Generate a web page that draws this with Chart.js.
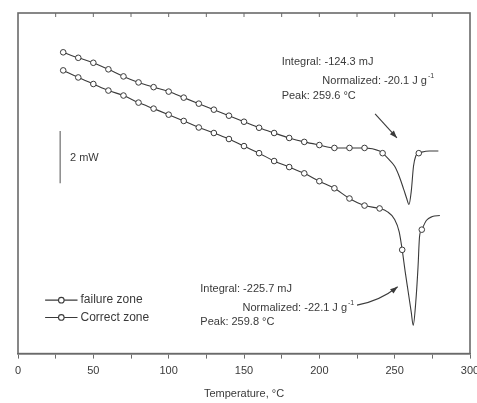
<!DOCTYPE html>
<html>
<head>
<meta charset="utf-8">
<script src="https://cdn.jsdelivr.net/npm/chart.js@4.4.0/dist/chart.umd.min.js"></script>
<style>
  html, body { margin: 0; padding: 0; background: #fff; overflow: hidden; }
  #wrap { width: 500px; height: 403px; }
</style>
</head>
<body>
<div id="wrap"><canvas id="dsc"></canvas></div>
<script>
// ---- data (temperature °C, heat flow mW, arbitrary offset) ----
const failureTemp = [30, 40, 50, 60, 70, 80, 90, 100, 110, 120, 130, 140, 150, 160, 170, 180, 190, 200, 210, 220, 230, 240, 242, 246, 250, 253, 256, 258, 259.5, 261, 262.5, 264, 266, 268, 273, 279];
const failureFlow = [11.5, 11.29, 11.1, 10.85, 10.58, 10.35, 10.17, 10.0, 9.77, 9.54, 9.31, 9.08, 8.85, 8.62, 8.42, 8.23, 8.08, 7.96, 7.85, 7.85, 7.85, 7.73, 7.65, 7.42, 7.15, 6.77, 6.27, 5.92, 5.69, 6.19, 7.15, 7.54, 7.65, 7.69, 7.73, 7.73];
const failureMarks = [30, 40, 50, 60, 70, 80, 90, 100, 110, 120, 130, 140, 150, 160, 170, 180, 190, 200, 210, 220, 230, 242, 266];

const correctTemp = [30, 40, 50, 60, 70, 80, 90, 100, 110, 120, 130, 140, 150, 160, 170, 180, 190, 200, 210, 220, 230, 240, 245, 250, 253, 255, 257, 259, 261, 262.3, 264, 265.5, 266.5, 268, 271, 275, 280];
const correctFlow = [10.81, 10.54, 10.29, 10.04, 9.85, 9.58, 9.35, 9.12, 8.88, 8.63, 8.42, 8.19, 7.92, 7.65, 7.35, 7.12, 6.88, 6.58, 6.31, 5.92, 5.65, 5.54, 5.42, 5.12, 4.65, 3.96, 3.12, 2.35, 1.58, 1.08, 1.96, 3.3, 4.46, 4.73, 5.08, 5.23, 5.27];
const correctMarks = [30, 40, 50, 60, 70, 80, 90, 100, 110, 120, 130, 140, 150, 160, 170, 180, 190, 200, 210, 220, 230, 240, 255, 268];

const seriesNames = ['failure zone', 'Correct zone'];
const xTickLabels = [0, 50, 100, 150, 200, 250, 300];

// annotation texts, placed in data units [°C, mW]
const notes = [
  { t: 'Integral: -124.3 mJ', x: 175, y: 11.12 },
  { t: 'Normalized: -20.1 J g', sup: '-1', x: 202, y: 10.42 },
  { t: 'Peak: 259.6 °C', x: 175, y: 9.85 },
  { t: 'Integral: -225.7 mJ', x: 121, y: 2.46 },
  { t: 'Normalized: -22.1 J g', sup: '-1', x: 149, y: 1.73 },
  { t: 'Peak: 259.8 °C', x: 121, y: 1.19 }
];
const arrows = [
  { from: [237, 9.15], to: [251.5, 8.23], ctrl: null },
  { from: [225, 1.85], to: [252, 2.55], ctrl: [240, 2.0] }
];

const INK = '#3a3a3a';
const FONT = '"Liberation Sans", Arial, sans-serif';

function toPts(xs, ys) {
  return xs.map((x, i) => ({ x: x, y: ys[i] }));
}

// frame, top ticks, scale bar, notes, arrows, legend
const decorPlugin = {
  id: 'decor',
  afterDatasetsDraw(chart) {
    const { ctx, chartArea: a, scales } = chart;
    const X = v => scales.x.getPixelForValue(v);
    const Y = v => scales.y.getPixelForValue(v);
    ctx.save();

    // frame
    ctx.strokeStyle = '#6a6a6a';
    ctx.lineWidth = 1.6;
    ctx.strokeRect(a.left, a.top, a.right - a.left, a.bottom - a.top);
    // top ticks (inward)
    ctx.lineWidth = 1;
    for (let v = 25; v < 300; v += 25) {
      ctx.beginPath();
      ctx.moveTo(X(v), a.top);
      ctx.lineTo(X(v), a.top + 4);
      ctx.stroke();
    }

    // 2 mW scale bar
    ctx.strokeStyle = '#8a8a8a';
    ctx.lineWidth = 1.5;
    ctx.beginPath();
    ctx.moveTo(X(28), Y(8.5));
    ctx.lineTo(X(28), Y(6.5));
    ctx.stroke();
    ctx.fillStyle = INK;
    ctx.font = '11px ' + FONT;
    ctx.textBaseline = 'middle';
    ctx.fillText('2 mW', X(34.5), Y(7.46));

    // notes
    notes.forEach(n => {
      ctx.font = '11px ' + FONT;
      ctx.fillText(n.t, X(n.x), Y(n.y));
      if (n.sup) {
        const w = ctx.measureText(n.t).width;
        ctx.font = '7px ' + FONT;
        ctx.fillText(n.sup, X(n.x) + w + 1, Y(n.y) - 5);
      }
    });

    // arrows
    ctx.strokeStyle = INK;
    ctx.fillStyle = INK;
    ctx.lineWidth = 1.1;
    arrows.forEach(ar => {
      const x0 = X(ar.from[0]), y0 = Y(ar.from[1]);
      const x1 = X(ar.to[0]), y1 = Y(ar.to[1]);
      ctx.beginPath();
      ctx.moveTo(x0, y0);
      let ang;
      if (ar.ctrl) {
        const cx = X(ar.ctrl[0]), cy = Y(ar.ctrl[1]);
        ctx.quadraticCurveTo(cx, cy, x1, y1);
        ang = Math.atan2(y1 - cy, x1 - cx);
      } else {
        ctx.lineTo(x1, y1);
        ang = Math.atan2(y1 - y0, x1 - x0);
      }
      ctx.stroke();
      ctx.beginPath();
      ctx.moveTo(x1, y1);
      ctx.lineTo(x1 - 8 * Math.cos(ang - 0.35), y1 - 8 * Math.sin(ang - 0.35));
      ctx.lineTo(x1 - 8 * Math.cos(ang + 0.35), y1 - 8 * Math.sin(ang + 0.35));
      ctx.closePath();
      ctx.fill();
    });

    // legend, bottom left inside plot
    const legY = [2.04, 1.38];
    seriesNames.forEach((name, i) => {
      const y = Y(legY[i]);
      const xa = X(18), xb = X(39.5), xm = (xa + xb) / 2;
      ctx.strokeStyle = INK;
      ctx.lineWidth = 1.1;
      ctx.beginPath();
      ctx.moveTo(xa, y);
      ctx.lineTo(xb, y);
      ctx.stroke();
      ctx.beginPath();
      ctx.arc(xm, y, 2.8, 0, Math.PI * 2);
      ctx.fillStyle = '#fff';
      ctx.fill();
      ctx.stroke();
      ctx.fillStyle = INK;
      ctx.font = '12px ' + FONT;
      ctx.fillText(name, X(41.5), y);
    });

    ctx.restore();
  }
};

function markRadius(temps, marks) {
  return c => (marks.includes(temps[c.dataIndex]) ? 2.8 : 0);
}

new Chart(document.getElementById('dsc'), {
  type: 'line',
  data: {
    datasets: [
      {
        label: seriesNames[0],
        data: toPts(failureTemp, failureFlow),
        borderColor: INK,
        borderWidth: 1.1,
        backgroundColor: '#fff',
        pointBorderColor: INK,
        pointBorderWidth: 1,
        pointRadius: markRadius(failureTemp, failureMarks),
        cubicInterpolationMode: 'monotone'
      },
      {
        label: seriesNames[1],
        data: toPts(correctTemp, correctFlow),
        borderColor: INK,
        borderWidth: 1.1,
        backgroundColor: '#fff',
        pointBorderColor: INK,
        pointBorderWidth: 1,
        pointRadius: markRadius(correctTemp, correctMarks),
        cubicInterpolationMode: 'monotone'
      }
    ]
  },
  options: {
    responsive: true,
    maintainAspectRatio: false,
    animation: false,
    layout: { padding: { top: 13, left: 18, right: 30, bottom: 2 } },
    plugins: { legend: { display: false }, tooltip: { enabled: false } },
    scales: {
      x: {
        type: 'linear',
        min: 0,
        max: 300,
        grid: { drawOnChartArea: false, drawTicks: true, tickLength: 5, color: '#6a6a6a' },
        border: { color: '#6a6a6a', width: 1.6 },
        ticks: {
          stepSize: 25,
          padding: 6,
          color: INK,
          font: { family: FONT, size: 11 },
          callback: v => (xTickLabels.includes(v) ? String(v) : '')
        },
        title: {
          display: true,
          text: 'Temperature, °C',
          color: INK,
          font: { family: FONT, size: 11 },
          padding: { top: 4, bottom: 0 }
        }
      },
      y: {
        display: false,
        min: 0,
        max: 13
      }
    }
  },
  plugins: [decorPlugin]
});
</script>
</body>
</html>
